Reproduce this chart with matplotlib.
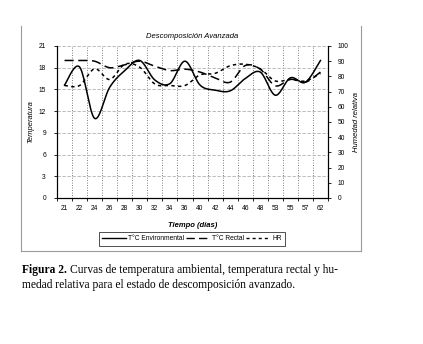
import matplotlib.pyplot as plt
import numpy as np
from matplotlib.lines import Line2D

# data (category axis, 18 sampling days)
dias = ["21", "22", "24", "26", "28", "30", "32", "34", "36",
        "40", "42", "44", "46", "48", "53", "55", "57", "62"]
temp_ambiental = [15.6, 18.1, 11.0, 15.3, 17.6, 19.0, 16.3, 15.8, 18.9,
                  15.6, 14.9, 14.8, 16.5, 17.4, 14.2, 16.6, 16.0, 19.0]
temp_rectal = [19.0, 19.0, 18.9, 18.0, 18.4, 18.9, 18.2, 17.6, 17.8,
               17.4, 16.6, 16.0, 18.3, 17.8, 15.5, 16.4, 16.0, 17.4]
humedad = [74, 74, 85, 78, 88, 86, 75, 74, 74,
           81, 82, 87, 88, 85, 77, 78, 77, 82]

plt.rcParams['font.family'] = ['Liberation Sans', 'DejaVu Sans']


def smooth(y, n=20):
    # excel-like smoothed line (catmull-rom through the points)
    y = np.asarray(y, dtype=float)
    x = np.arange(len(y), dtype=float)
    px = np.concatenate(([x[0]], x, [x[-1]]))
    py = np.concatenate(([y[0]], y, [y[-1]]))
    xs, ys = [], []
    t = np.linspace(0, 1, n, endpoint=False)
    for i in range(1, len(px) - 2):
        for p, out in ((px, xs), (py, ys)):
            p0, p1, p2, p3 = p[i - 1], p[i], p[i + 1], p[i + 2]
            out.extend(0.5 * ((2 * p1) + (-p0 + p2) * t
                              + (2 * p0 - 5 * p1 + 4 * p2 - p3) * t ** 2
                              + (-p0 + 3 * p1 - 3 * p2 + p3) * t ** 3))
    xs.append(x[-1])
    ys.append(y[-1])
    return np.array(xs), np.array(ys)


fig = plt.figure(figsize=(4.23, 3.44), dpi=100)
fig.patch.set_facecolor('white')

# chart area frame (left, right and bottom edges show in the scan)
x0, x1 = 21 / 423, 361 / 423
y0, y1 = 1 - 251 / 344, 1 - 26 / 344
for xx, yy in (([x0, x0], [y0, y1]), ([x1, x1], [y0, y1]), ([x0, x1], [y0, y0])):
    fig.add_artist(Line2D(xx, yy, transform=fig.transFigure,
                          color='#9a9a9a', linewidth=0.8))

ax = fig.add_axes([57 / 423, 1 - 198 / 344, 271 / 423, 152 / 344])
ax2 = ax.twinx()

n = len(dias)
ax.set_xlim(-0.5, n - 0.5)
ax.set_ylim(0, 21)
ax2.set_ylim(0, 100)

xs, ys = smooth(temp_ambiental)
ax.plot(xs, ys, color='black', linewidth=1.1, linestyle='-')
xs, ys = smooth(temp_rectal)
ax.plot(xs, ys, color='black', linewidth=1.1, linestyle=(0, (6, 3)))
xs, ys = smooth(humedad)
ax2.plot(xs, ys, color='black', linewidth=1.1, linestyle=(0, (2.2, 2.2)))

# axes / grid
ax.set_yticks(np.arange(0, 22, 3))
ax2.set_yticks(np.arange(0, 101, 10))
ax.set_xticks(np.arange(-0.5, n, 1.0))
ax.set_xticklabels([])
ax.set_xticks(np.arange(n), minor=True)
ax.set_xticklabels(dias, minor=True)
ax.tick_params(axis='x', which='minor', length=0, labelsize=4.8, pad=5)
ax.tick_params(axis='x', which='major', length=2, width=0.6)
ax.tick_params(axis='y', labelsize=4.8, length=2, width=0.6, pad=6)
ax2.tick_params(axis='y', labelsize=4.8, length=2, width=0.6, pad=5)
ax.grid(axis='x', which='major', color='#555555', linestyle=(0, (1, 2)), linewidth=0.6)
ax.grid(axis='y', color='#b0b0b0', linestyle=(0, (4, 2)), linewidth=0.6)
for a in (ax, ax2):
    a.spines['top'].set_visible(False)
    for s in ('left', 'right', 'bottom'):
        a.spines[s].set_linewidth(0.8)

ax.set_title("Descomposición Avanzada", fontsize=5.5, style='italic', pad=6)
ax.set_ylabel("Temperatura", fontsize=5.5, style='italic', labelpad=3)
ax2.set_ylabel("Humedad relativa", fontsize=5.5, style='italic', labelpad=3)
ax.set_xlabel("Tiempo (días)", fontsize=5.5, style='italic', fontweight='bold', labelpad=7)

handles = [Line2D([], [], color='black', linewidth=1.0, linestyle='-'),
           Line2D([], [], color='black', linewidth=1.0, linestyle=(0, (6, 3))),
           Line2D([], [], color='black', linewidth=1.0, linestyle=(0, (2.2, 2.2)))]
leg = fig.legend(handles, ["T°C Environmental", "T°C Rectal", "HR"],
                 loc='center', bbox_to_anchor=(192 / 423, 1 - 239 / 344),
                 ncol=3, fontsize=4.8, frameon=True, fancybox=False,
                 handlelength=3.6, handletextpad=0.3, columnspacing=0.3,
                 borderpad=0.5, edgecolor='black')
leg.get_frame().set_linewidth(0.6)

# caption, bold "Figura 2." followed by regular text
cap = fig.text(22 / 423, 1 - 270 / 344, "Figura 2.", fontsize=8.3,
               fontweight='bold', family='Liberation Serif', va='center')
fig.canvas.draw()
bb = cap.get_window_extent()
x_next = (bb.x1 + 3) / fig.bbox.width
fig.text(x_next, 1 - 270 / 344,
         "Curvas de temperatura ambiental, temperatura rectal y hu-",
         fontsize=8.3, family='Liberation Serif', va='center')
fig.text(22 / 423, 1 - 285 / 344,
         "medad relativa para el estado de descomposición avanzado.",
         fontsize=8.3, family='Liberation Serif', va='center')

fig.savefig("out.png", dpi=100, facecolor='white')
